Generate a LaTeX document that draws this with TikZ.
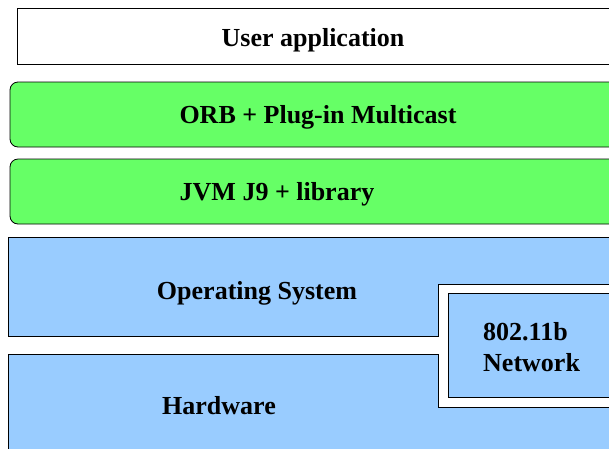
\documentclass[tikz,border=0pt]{standalone}
\usepackage{fontspec}
\setmainfont{Liberation Serif}
\usetikzlibrary{positioning}

\definecolor{layergreen}{HTML}{66FF66}
\definecolor{layerblue}{HTML}{99CCFF}

\begin{document}
\begin{tikzpicture}[
		x=1pt, y=-1pt,
		basic/.style  = {draw, line width=0.8pt},
		plain/.style  = {basic, fill=white},
		soft/.style   = {basic, rounded corners=8pt, fill=layergreen},
		hard/.style   = {basic, fill=layerblue},
		label/.style  = {font=\fontsize{26}{31}\selectfont\bfseries, inner sep=0pt},
		]
		
		% page frame
		\useasboundingbox (0,0) rectangle (609,448);
		\clip (0,0) rectangle (609,448);
		
		% Upper layers
		\draw[plain] (17,8) rectangle (620,64);
		\draw[soft] (10,82) rectangle (630,147);
		\draw[soft] (10,159) rectangle (630,224);
		
		% Lower layers, with a notch for the network
		\draw[hard] (8,237) -- (620,237) -- (620,284) -- (438,284) -- (438,336) -- (8,336) -- cycle;
		\draw[hard] (8,354) -- (438,354) -- (438,407) -- (620,407) -- (620,460) -- (8,460) -- cycle;
		\draw[hard] (448,293) rectangle (620,397);
		
		% Texts of the layers
		\node[label] (app) at (313,40) {User application};
		\node[label] (orb) at (318,117) {ORB + Plug-in Multicast};
		\node[label] (jvm) at (277,194) {JVM J9 + library};
		\node[label] (os)  at (257,293) {Operating System};
		\node[label] (hw)  at (219,406) {Hardware};
		\node[label, anchor=west, align=left] (net) at (483,347) {802.11b\\Network};
		
	\end{tikzpicture}
\end{document}
